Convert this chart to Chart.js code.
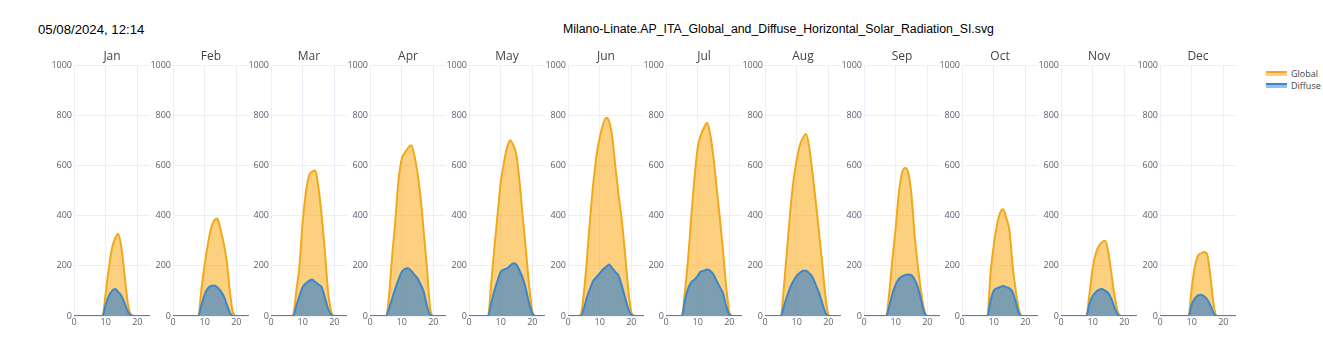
<!DOCTYPE html>
<html>
<head>
<meta charset="utf-8">
<script src="https://cdn.jsdelivr.net/npm/chart.js@4.4.1/dist/chart.umd.min.js"></script>
<style>
  html, body { margin: 0; padding: 0; background: #fff; }
  body { position: relative; width: 1323px; height: 342px; overflow: hidden; }
  .hdr { position: absolute; top: 22px; font-family: "Liberation Sans", Arial, sans-serif; color: #000; white-space: nowrap; }
  .panel { position: absolute; }
  .legend { position: absolute; left: 1266px; top: 68px; font: 9px "Open Sans", sans-serif; color: #444; }
  .legend div { position: relative; height: 12px; line-height: 12px; padding-left: 25px; }
  .legend span { position: absolute; left: 0; top: 3px; width: 21px; height: 3px; }
</style>
</head>
<body>
<div class="hdr" style="left:38px;font-size:13.2px">05/08/2024, 12:14</div>
<div class="hdr" style="left:563px;font-size:12.3px">Milano-Linate.AP_ITA_Global_and_Diffuse_Horizontal_Solar_Radiation_SI.svg</div>
<div class="legend">
  <div><span style="background:rgba(250,170,20,0.55);border-top:2px solid #f2a81c"></span>Global</div>
  <div><span style="background:rgba(60,140,220,0.55);border-top:2px solid #3a87cc"></span>Diffuse</div>
</div>
<div id="panels"></div>
<script>
const months = ["Jan", "Feb", "Mar", "Apr", "May", "Jun", "Jul", "Aug", "Sep", "Oct", "Nov", "Dec"];
const hours = [0, 1, 2, 3, 4, 5, 6, 7, 8, 9, 10, 11, 12, 13, 14, 15, 16, 17, 18, 19, 20, 21, 22, 23, 24];
const xTicks = [0, 10, 20];
const yTicks = [0, 200, 400, 600, 800, 1000];

// hourly mean radiation, W/m2
const globalJan = [0,0,0,0,0,0,0,0,0,0, 90,190,270,310,328,270,160,50,5,0, 0,0,0,0,0];
const diffuseJan = [0,0,0,0,0,0,0,0,0,0, 45,80,100,108,95,80,50,18,2,0, 0,0,0,0,0];
const globalFeb = [0,0,0,0,0,0,0,0,0, 110,205,285,350,380,388,345,290,215,95,10,0, 0,0,0,0];
const diffuseFeb = [0,0,0,0,0,0,0,0,0, 45,85,110,120,122,115,100,80,45,12,0,0, 0,0,0,0];
const globalMar = [0,0,0,0,0,0,0, 5,100,200,375,490,560,575,580,510,400,260,100,20, 0,0,0,0,0];
const diffuseMar = [0,0,0,0,0,0,0, 0,40,80,115,130,140,145,135,125,115,75,30,5, 0,0,0,0,0];
const globalApr = [0,0,0,0,0, 0,80,240,380,540,625,650,670,680,640,570,470,330,190,30, 0,0,0,0,0];
const diffuseApr = [0,0,0,0,0, 0,30,70,110,145,175,188,190,180,165,150,125,95,40,5, 0,0,0,0,0];
const globalMay = [0,0,0,0,0,0, 0,130,270,400,530,610,670,700,680,640,530,390,260,120,20, 0,0,0,0];
const diffuseMay = [0,0,0,0,0,0, 0,50,100,140,175,185,190,200,210,205,180,150,105,50,10, 0,0,0,0];
const globalJun = [0,0,0,0, 5,90,230,390,530,640,710,760,790,775,710,590,480,380,250,110,15, 0,0,0,0];
const diffuseJun = [0,0,0,0, 0,30,75,110,140,155,170,185,195,205,190,175,160,120,75,30,5, 0,0,0,0];
const globalJul = [0,0,0,0,0, 0,100,230,400,550,670,720,750,770,720,630,510,390,260,120,15, 0,0,0,0];
const diffuseJul = [0,0,0,0,0, 0,65,110,135,145,160,178,180,185,180,165,140,115,90,40,5, 0,0,0,0];
const globalAug = [0,0,0,0,0, 0,120,270,420,540,620,680,710,725,670,570,460,340,220,90,5, 0,0,0,0];
const diffuseAug = [0,0,0,0,0, 0,40,80,115,140,160,172,180,180,170,155,125,95,55,15,0, 0,0,0,0];
const globalSep = [0,0,0,0,0,0,0, 0,95,230,350,490,570,590,570,480,320,200,100,25, 0,0,0,0,0];
const diffuseSep = [0,0,0,0,0,0,0, 0,40,90,125,148,158,163,165,163,145,115,65,15, 0,0,0,0,0];
const globalOct = [0,0,0,0,0,0,0,0, 0,170,280,360,410,425,390,340,200,100,25, 0,0,0,0,0,0];
const diffuseOct = [0,0,0,0,0,0,0,0, 0,60,100,110,115,120,115,110,95,55,10, 0,0,0,0,0,0];
const globalNov = [0,0,0,0,0,0,0,0, 0,90,190,250,280,295,300,250,160,75,15, 0,0,0,0,0,0];
const diffuseNov = [0,0,0,0,0,0,0,0, 0,50,80,95,105,108,100,90,65,30,5, 0,0,0,0,0,0];
const globalDec = [0,0,0,0,0,0,0,0,0, 0,110,195,240,250,255,240,150,40,0, 0,0,0,0,0,0];
const diffuseDec = [0,0,0,0,0,0,0,0,0, 0,45,70,82,85,78,65,40,10,0, 0,0,0,0,0,0];

const globalByMonth = [globalJan, globalFeb, globalMar, globalApr, globalMay, globalJun,
  globalJul, globalAug, globalSep, globalOct, globalNov, globalDec];
const diffuseByMonth = [diffuseJan, diffuseFeb, diffuseMar, diffuseApr, diffuseMay, diffuseJun,
  diffuseJul, diffuseAug, diffuseSep, diffuseOct, diffuseNov, diffuseDec];

const gridColor = "#ebf0f8";
const tickFont = { family: "'Open Sans', sans-serif", size: 9 };
const tickColor = "#5b6070";

// month name above each small plot
const panelTitle = {
  id: "panelTitle",
  afterDraw(chart, args, opts) {
    const { ctx, chartArea } = chart;
    ctx.save();
    ctx.font = "12px 'Open Sans', sans-serif";
    ctx.fillStyle = "#444";
    ctx.textAlign = "center";
    ctx.textBaseline = "middle";
    ctx.fillText(opts.text, (chartArea.left + chartArea.right) / 2, chartArea.top - 8);
    ctx.restore();
  },
};

const AXIS_W = 26;
const PLOT_W = 76;
const STEP = 98.7;
const container = document.getElementById("panels");

months.forEach((month, i) => {
  const left = Math.round(74 + STEP * i) - AXIS_W;
  const canvas = document.createElement("canvas");
  canvas.className = "panel";
  canvas.width = AXIS_W + PLOT_W;
  canvas.height = 285;
  canvas.style.left = left + "px";
  canvas.style.top = "45px";
  container.appendChild(canvas);

  new Chart(canvas.getContext("2d"), {
    type: "line",
    data: {
      labels: hours,
      datasets: [
        {
          label: "Global",
          data: hours.map((h, k) => ({ x: h, y: globalByMonth[i][k] })),
          borderColor: "#f2a81c",
          backgroundColor: "rgba(250,170,20,0.55)",
          fill: "origin",
          order: 1,
        },
        {
          label: "Diffuse",
          data: hours.map((h, k) => ({ x: h, y: diffuseByMonth[i][k] })),
          borderColor: "#3a87cc",
          backgroundColor: "rgba(20,115,220,0.55)",
          fill: "origin",
          order: 0,
        },
      ],
    },
    options: {
      responsive: false,
      animation: false,
      devicePixelRatio: 1,
      layout: { padding: { top: 20, left: 0, right: 0, bottom: 0 } },
      elements: {
        point: { radius: 0 },
        line: { borderWidth: 2, cubicInterpolationMode: "monotone" },
      },
      plugins: {
        legend: { display: false },
        tooltip: { enabled: false },
        panelTitle: { text: month },
      },
      scales: {
        x: {
          type: "linear",
          min: 0,
          max: 24,
          afterBuildTicks: (scale) => { scale.ticks = xTicks.map((v) => ({ value: v })); },
          afterFit: (scale) => { scale.height = 14; },
          grid: { color: gridColor, drawTicks: false },
          border: { display: false },
          ticks: { font: tickFont, color: tickColor, padding: 1, maxRotation: 0, callback: (v) => String(v) },
        },
        y: {
          min: 0,
          max: 1000,
          afterBuildTicks: (scale) => { scale.ticks = yTicks.map((v) => ({ value: v })); },
          afterFit: (scale) => { scale.width = AXIS_W; },
          grid: { color: gridColor, drawTicks: false },
          border: { display: false },
          ticks: { font: tickFont, color: tickColor, padding: 2, callback: (v) => String(v) },
        },
      },
    },
    plugins: [panelTitle],
  });
});
</script>
</body>
</html>
